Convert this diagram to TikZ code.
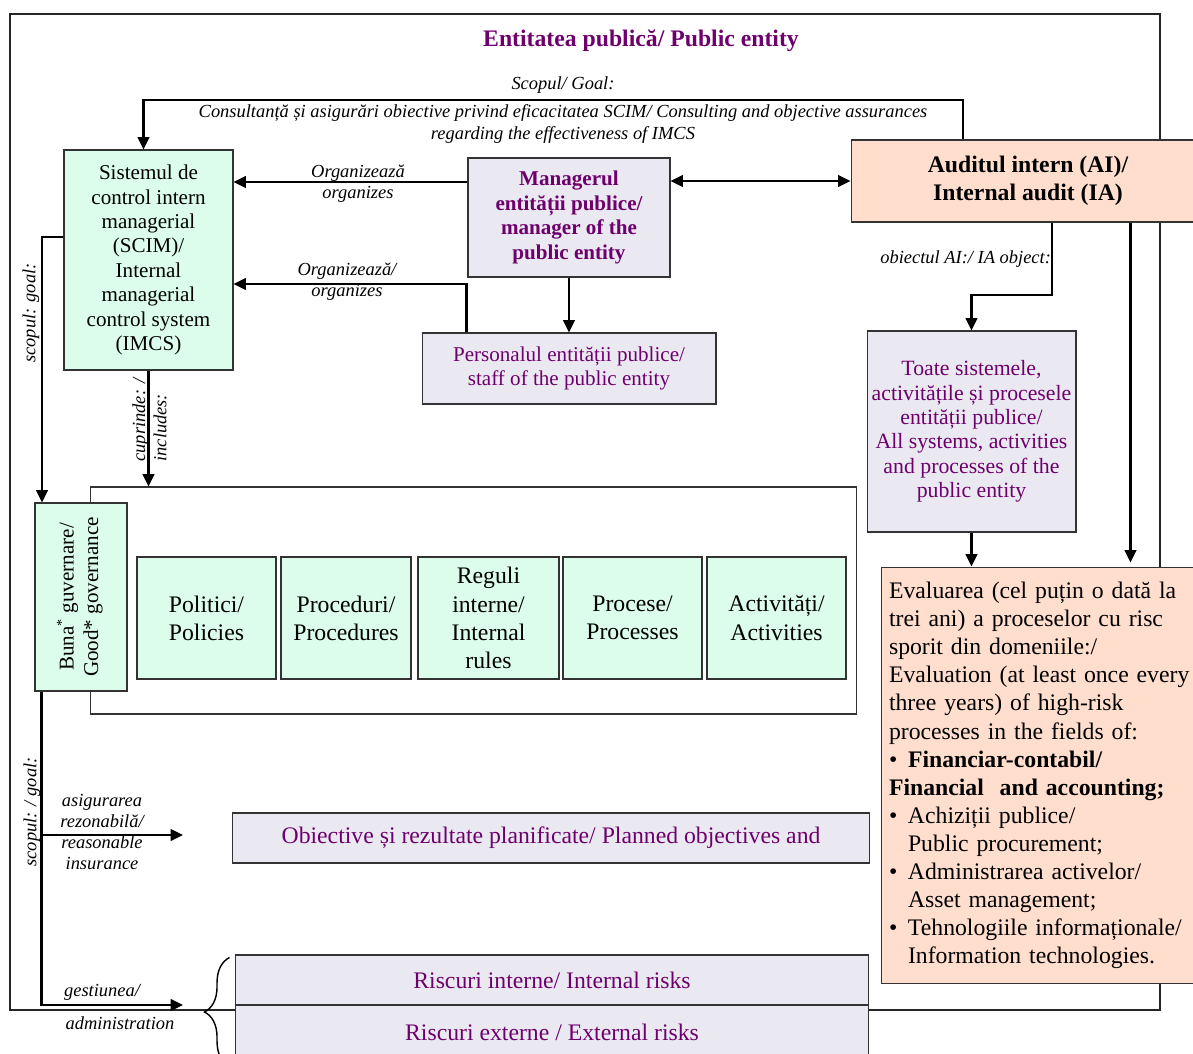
\documentclass[tikz,border=0pt]{standalone}
\usepackage{fontspec}
\setmainfont{Liberation Serif}
\usetikzlibrary{arrows.meta,calc,decorations.pathreplacing}

\definecolor{mintfill}{RGB}{220,253,236}
\definecolor{lilacfill}{RGB}{234,233,241}
\definecolor{peachfill}{RGB}{255,222,206}
\definecolor{entpurple}{RGB}{110,0,110}
\newcommand{\boxfont}{\fontsize{12}{13.9}\selectfont}
\newcommand{\bigboxfont}{\fontsize{13.5}{16}\selectfont}
\newcommand{\labfont}{\fontsize{10.5}{12}\selectfont\itshape}

\begin{document}
\begin{tikzpicture}[x=0.02cm, y=-0.02cm,
  entityframe/.style={draw=black!85, line width=0.6pt},
  box/.style={draw=black!80, line width=0.6pt, inner sep=2pt, align=center},
  mint/.style={box, fill=mintfill},
  lilac/.style={box, fill=lilacfill, text=entpurple},
  peach/.style={box, fill=peachfill},
  lab/.style={font=\labfont, align=center, inner sep=1pt},
  conn/.style={line width=1.3pt},
  arr/.style={conn, -{Triangle[length=7pt,width=6.5pt]}},
  darr/.style={conn, {Triangle[length=7pt,width=6.5pt]}-{Triangle[length=7pt,width=6.5pt]}}]

\useasboundingbox (0,0) rectangle (1193,1054);
\clip (0,0) rectangle (1193,1054);

% public entity
\draw[entityframe] (10,14) rectangle (1160,1010);
\node[font=\bigboxfont\bfseries, text=entpurple] (title) at (641,41) {Entitatea publică/ Public entity};

% top row
\node[mint, font=\boxfont, minimum width=3.38cm, minimum height=4.4cm] (scim) at (148.5,260)
  {Sistemul de\\control intern\\managerial\\(SCIM)/\\Internal\\managerial\\control system\\(IMCS)};
\node[lilac, font=\boxfont\bfseries, minimum width=4.04cm, minimum height=2.38cm] (manager) at (569,217.5)
  {Managerul\\entității publice/\\manager of the\\public entity};
\node[peach, font=\bigboxfont\bfseries, minimum width=7.08cm, minimum height=1.64cm] (audit) at (1028,181)
  {Auditul intern (AI)/\\Internal audit (IA)};
\node[lilac, font=\boxfont, minimum width=5.88cm, minimum height=1.42cm] (staff) at (569,368.5)
  {Personalul entității publice/\\staff of the public entity};
\node[lilac, font=\fontsize{12.4}{13.9}\selectfont, minimum width=4.18cm, minimum height=4.02cm] (toate) at (971.5,431.5)
  {Toate sistemele,\\activitățile și procesele\\entității publice/\\All systems, activities\\and processes of the\\public entity};

% evaluation
\node[peach, font=\fontsize{13.5}{16}\selectfont, align=left, text width=6.16cm, inner xsep=0.16cm, minimum height=8.34cm] (evalbox) at (1043,775.5)
  {Evaluarea (cel puțin o dată la\\
   trei ani) a proceselor cu risc\\
   sporit din domeniile:/\\
   Evaluation (at least once every\\
   three years) of high-risk\\
   processes in the fields of:\\
   \makebox[0.8em][l]{\textbullet}\textbf{Financiar-contabil/}\\
   \textbf{Financial\ \ and accounting;}\\
   \makebox[0.8em][l]{\textbullet}Achiziții publice/\\
   \hspace*{0.8em}Public procurement;\\
   \makebox[0.8em][l]{\textbullet}Administrarea activelor/\\
   \hspace*{0.8em}Asset management;\\
   \makebox[0.8em][l]{\textbullet}Tehnologiile informaționale/\\
   \hspace*{0.8em}Information technologies.};

% what the system includes
\node[box, minimum width=15.34cm, minimum height=4.54cm] (container) at (473.5,600.5) {};
\node[mint, font=\boxfont, minimum width=1.84cm, minimum height=3.76cm] (buna) at (81,597)
  {\rotatebox{90}{\begin{tabular}{@{}c@{}}Buna\textsuperscript{*} guvernare/\\Good* governance\end{tabular}}};
\node[mint, font=\bigboxfont, minimum width=2.78cm, minimum height=2.44cm] (politici) at (206.5,618) {Politici/\\Policies};
\node[mint, font=\bigboxfont, minimum width=2.6cm, minimum height=2.44cm] (proceduri) at (346,618) {Proceduri/\\Procedures};
\node[mint, font=\bigboxfont, minimum width=2.82cm, minimum height=2.44cm] (reguli) at (488.5,618) {Reguli\\interne/\\Internal\\rules};
\node[mint, font=\bigboxfont, minimum width=2.78cm, minimum height=2.44cm] (procese) at (632.5,618) {Procese/\\Processes};
\node[mint, font=\bigboxfont, minimum width=2.78cm, minimum height=2.44cm] (activitati) at (776.5,618) {Activități/\\Activities};

% objectives and risks
\node[lilac, font=\bigboxfont, minimum width=12.76cm, minimum height=1cm] (obiective) at (551,838)
  {Obiective și rezultate planificate/ Planned objectives and};
\node[lilac, font=\bigboxfont, minimum width=12.68cm, minimum height=1cm] (riscint) at (552,980)
  {Riscuri interne/ Internal risks};
\node[lilac, font=\bigboxfont, minimum width=12.68cm, minimum height=1.1cm] (riscext) at (552,1032.5)
  {Riscuri externe / External risks};

% goal of the internal audit
\coordinate (goalturn) at (963,100);
\draw[arr] (audit.north -| goalturn) -- (goalturn) -| ($(scim.north)+(-5,0)$);
\node[lab] (goallab) at (563,85) {Scopul/ Goal:};
\node[lab] (goaltext) at (563,124)
  {Consultanță și asigurări obiective privind eficacitatea SCIM/ Consulting and objective assurances\\regarding the effectiveness of IMCS};

% manager organizes
\coordinate (org1) at (358,182);
\draw[arr] (manager.west |- org1) -- (scim.east |- org1);
\node[lab] (org1lab) at (358,184) {Organizează\\organizes};
\draw[darr] (manager.east |- audit.west) -- (audit.west);
\draw[arr] (manager.south) -- (staff.north);
\coordinate (org2) at (347,284);
\draw[arr] ($(staff.north west)+(45,0)$) |- (scim.east |- org2);
\node[lab] (org2lab) at (347,282) {Organizează/\\organizes};

% SCIM goal and content
\coordinate (goalleft) at (42,237);
\draw[arr] (scim.west |- goalleft) -- (goalleft) -- (goalleft |- buna.north);
\node[lab, rotate=90] (scopul1) at (31,313) {scopul: goal:};
\draw[arr] (scim.south) -- (scim.south |- container.north);
\node[lab, rotate=90, align=left] (incl) at (149.5,420) {cuprinde: /\\includes:};

% good governance: assurance and risks
\coordinate (asig) at (183,835);
\coordinate (gest) at (183,1005);
\draw[arr] ($(buna.south west)+(7,0)$) coordinate (bunafoot) |- (gest);
\draw[arr] (bunafoot |- asig) -- (asig);
\node[lab] (asiglab) at (102,832) {asigurarea\\rezonabilă/\\reasonable\\insurance};
\node[lab] (gestlab) at (102,992) {gestiunea/};
\node[lab] (admlab) at (120,1023) {administration};
\node[lab, rotate=90] (scopul2) at (32,812) {scopul: / goal:};
\draw[decorate, decoration={brace, amplitude=0.5cm}, line width=0.8pt]
  ($(riscext.south west)+(-5,6)$) -- ($(riscint.north west)+(-5,3)$);

% internal audit object
\coordinate (objturn) at (1052,295);
\draw[arr] (audit.south -| objturn) -- (objturn) -| (toate.north);
\node[lab, anchor=east] (objlab) at (1053,259) {obiectul AI:/ IA object:};
\draw[arr] (toate.south) -- (evalbox.north -| toate.south);
\draw[arr] ($(audit.south west)+(280,0)$) coordinate (iadown) -- ($(iadown |- evalbox.north)+(0,-4)$);

\end{tikzpicture}
\end{document}
